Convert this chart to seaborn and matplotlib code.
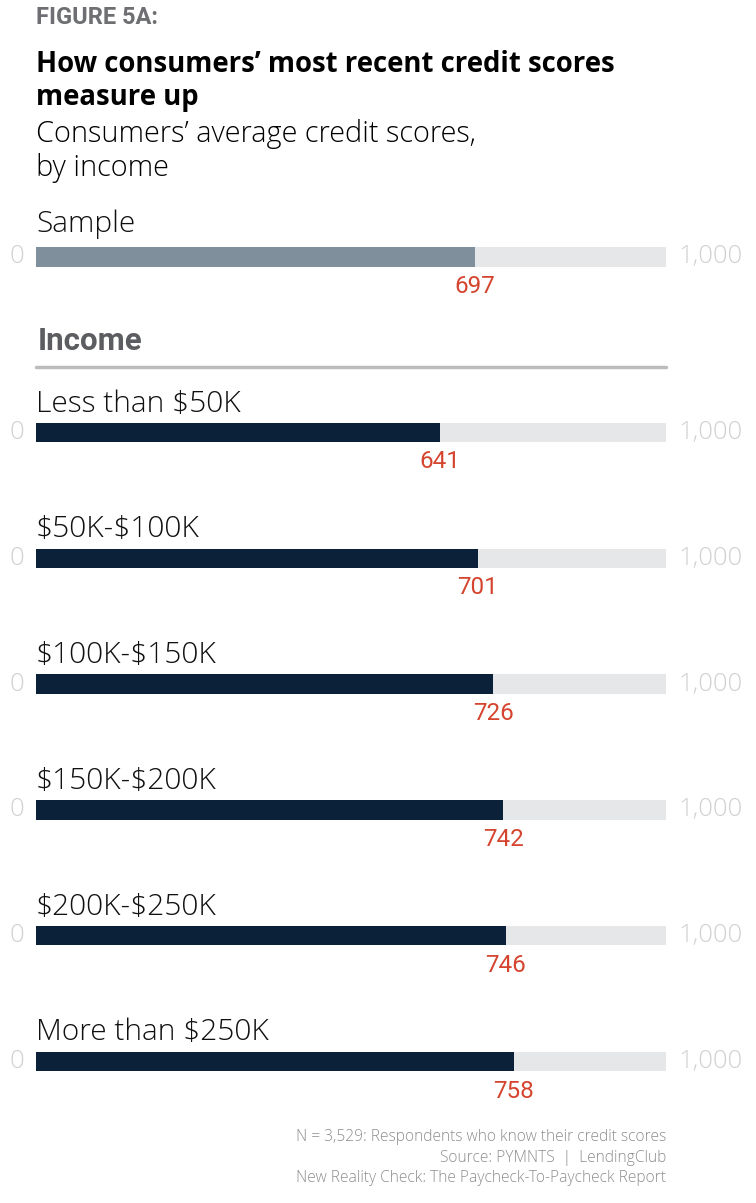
import pandas as pd
import seaborn as sns
import matplotlib.pyplot as plt

sample_label = ['Sample']
sample_score = [697]
income_groups = ['Less than $50K', '$50K-$100K', '$100K-$150K',
                 '$150K-$200K', '$200K-$250K', 'More than $250K']
income_scores = [641, 701, 726, 742, 746, 758]
scale_max = 1000
footer_lines = ['N = 3,529: Respondents who know their credit scores',
                'Source: PYMNTS  |  LendingClub',
                'New Reality Check: The Paycheck-To-Paycheck Report']

sns.set_theme(style='white')
plt.rcParams['font.family'] = ['Open Sans', 'DejaVu Sans']
plt.rcParams['text.parse_math'] = False

W, H = 756, 1203
fig = plt.figure(figsize=(W / 100, H / 100), dpi=100)
fig.patch.set_facecolor('white')

def fy(y):
    return 1 - y / H

NAVY = '#0a2139'
SLATE = '#7f909c'
TRACK = '#e6e7e9'
RED = '#d5442e'
LIGHT = '#d0d1d3'

fig.text(36 / W, fy(24), 'FIGURE 5A:', fontsize=17, fontweight='bold',
         color='#6e6f72', family=['Roboto', 'DejaVu Sans'])
fig.text(36 / W, fy(72), 'How consumers\u2019 most recent credit scores',
         fontsize=19.8, fontweight='bold', color='black')
fig.text(36 / W, fy(105), 'measure up', fontsize=19.8, fontweight='bold', color='black')
fig.text(36 / W, fy(142), 'Consumers\u2019 average credit scores,',
         fontsize=20.8, fontweight='light', color='black')
fig.text(36 / W, fy(176), 'by income', fontsize=20.8, fontweight='light', color='black')

fig.text(38 / W, fy(350), 'Income', fontsize=22.5, fontweight='bold', color='#5c5d60',
         family=['Roboto', 'DejaVu Sans'])
fig.add_artist(plt.Line2D([36 / W, 666 / W], [fy(367), fy(367)],
                          color='#bbbcbe', lw=2.5, transform=fig.transFigure))

unit = 125.8  # pixels per category slot
bar_w = 19.5 / unit


def draw_group(ax, labels, scores, color, label_gap):
    track = pd.DataFrame({'group': labels, 'score': [scale_max] * len(labels)})
    data = pd.DataFrame({'group': labels, 'score': scores})
    sns.barplot(data=track, x='score', y='group', orient='h', color=TRACK,
                saturation=1, width=bar_w, linewidth=0, ax=ax)
    sns.barplot(data=data, x='score', y='group', orient='h', color=color,
                saturation=1, width=bar_w, linewidth=0, ax=ax)
    ax.set_xlim(0, scale_max)
    ax.set_ylim(len(labels) - 0.5, -0.5)
    ax.axis('off')
    for i, (lab, val) in enumerate(zip(labels, scores)):
        ax.text(0, i - label_gap / unit, lab, fontsize=21.5, fontweight='light',
                color='#111111', va='baseline', ha='left')
        ax.text(val, i + 36 / unit, str(val), fontsize=17.5, color=RED,
                va='baseline', ha='center', family=['Roboto', 'DejaVu Sans'])
        ax.text(-12 / 630 * scale_max, i, '0', fontsize=18.5, fontweight='light',
                color=LIGHT, va='center', ha='right', clip_on=False)
        ax.text(scale_max + 12 / 630 * scale_max, i, '1,000', fontsize=18.5,
                fontweight='light', color=LIGHT, va='center', ha='left', clip_on=False)


# sample bar centred at y=257px
ax_s = fig.add_axes([36 / W, fy(257 + unit / 2), 630 / W, unit / H])
draw_group(ax_s, sample_label, sample_score, SLATE, 25)

# income bars centred from y=432.5px to 1061.5px
top = 432.5 - unit / 2
bottom = 1061.5 + unit / 2
ax_i = fig.add_axes([36 / W, fy(bottom), 630 / W, (bottom - top) / H])
draw_group(ax_i, income_groups, income_scores, NAVY, 21)

for k, line in enumerate(footer_lines):
    fig.text(666 / W, fy(1141 + 20.5 * k), line, fontsize=11.2, fontweight='light',
             color='#8c8d90', ha='right', va='baseline')

plt.savefig('out.png', dpi=100, facecolor='white')
